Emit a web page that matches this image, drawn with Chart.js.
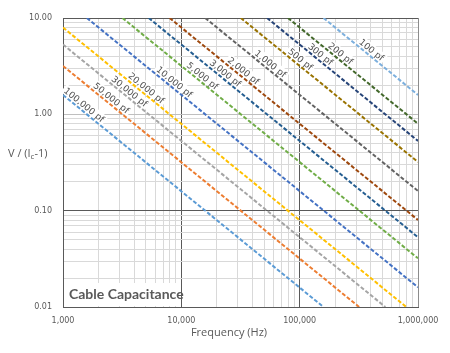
<!DOCTYPE html>
<html>
<head>
<meta charset="utf-8">
<script src="https://cdn.jsdelivr.net/npm/chart.js@4.4.1/dist/chart.umd.min.js"></script>
<style>
  html, body { margin: 0; padding: 0; background: #fff; }
  #wrap { width: 450px; height: 353px; }
</style>
</head>
<body>
<div id="wrap"><canvas id="capChart"></canvas></div>
<script>
// one straight line per cable capacitance (log-log)
const seriesLabels = ["100 pf", "200 pf", "300 pf", "500 pf", "1,000 pf", "2,000 pf", "3,000 pf",
                      "5,000 pf", "10,000 pf", "20,000 pf", "30,000 pf", "50,000 pf", "100,000 pf"];
const startFreq = [159000, 79600, 53000, 31800, 15900, 7960, 5300, 3180, 1590, 1000, 1000, 1000, 1000];
const startV    = [10, 10, 10, 10, 10, 10, 10, 10, 10, 7.96, 5.3, 3.18, 1.59];
const endFreq   = [1000000, 1000000, 1000000, 1000000, 1000000, 1000000, 1000000, 1000000, 1000000,
                   796000, 530000, 318000, 159000];
const endV      = [1.59, 0.80, 0.53, 0.32, 0.16, 0.080, 0.053, 0.032, 0.016, 0.01, 0.01, 0.01, 0.01];
// frequency where each series name sits
const labelFreq = [378000, 207000, 140000, 94800, 52900, 31300, 22000, 14100, 8150, 4720, 3400, 2390, 1410];

const lineColors = ["#7CAFDD", "#43682B", "#264478", "#997300", "#636363", "#9E480E", "#255E91",
                    "#70AD47", "#4472C4", "#FFC000", "#A5A5A5", "#ED7D31", "#5B9BD5"];

const xMin = 1000, xMax = 1000000;
const yMin = 0.01, yMax = 10;

// 1..9 per decade for the log grid
const logGrid = (min, max) => {
    const out = [];
    for (let e = Math.round(Math.log10(min)); e < Math.round(Math.log10(max)); e++) {
        for (let m = 1; m < 10; m++) out.push(m * Math.pow(10, e));
    }
    out.push(max);
    return out;
};
const isDecade = v => Math.abs(Math.log10(v) - Math.round(Math.log10(v))) < 1e-6;

const xGridColor = ctx => {
    const v = ctx.tick ? ctx.tick.value : 0;
    if (!isDecade(v)) return "#D9D9D9";
    return v >= xMax ? "#8C8C8C" : "#595959";
};
const yGridColor = ctx => {
    const v = ctx.tick ? ctx.tick.value : 0;
    if (!isDecade(v)) return "#D9D9D9";
    if (Math.abs(v - 1) < 1e-9) return "#BFBFBF";
    return "#595959";
};

const datasets = seriesLabels.map((name, i) => ({
    label: name,
    data: [{x: startFreq[i], y: startV[i]}, {x: endFreq[i], y: endV[i]}],
    borderColor: lineColors[i],
    backgroundColor: lineColors[i],
    borderWidth: 2,
    borderDash: [4, 2],
    pointRadius: 0,
    fill: false
}));

const annotate = {
    id: "annotate",
    beforeDatasetsDraw(chart) {
        const {ctx, chartArea, scales: {x, y}} = chart;
        ctx.save();

        // caption box
        ctx.fillStyle = "#fff";
        ctx.fillRect(chartArea.left + 1, chartArea.bottom - 24, 116, 23);
        ctx.font = "bold 14px Lato";
        ctx.fillStyle = "#595959";
        ctx.textBaseline = "middle";
        ctx.textAlign = "left";
        ctx.fillText("Cable Capacitance", chartArea.left + 6, chartArea.bottom - 13);

        // series names along the lines
        ctx.font = "9px 'DejaVu Sans'";
        seriesLabels.forEach((name, i) => {
            const x0 = x.getPixelForValue(startFreq[i]), y0 = y.getPixelForValue(startV[i]);
            const x1 = x.getPixelForValue(endFreq[i]), y1 = y.getPixelForValue(endV[i]);
            const angle = Math.atan2(y1 - y0, x1 - x0);
            const px = x.getPixelForValue(labelFreq[i]);
            const py = y0 + (px - x0) / (x1 - x0) * (y1 - y0);
            ctx.save();
            ctx.translate(px, py);
            ctx.rotate(angle);
            const w = ctx.measureText(name).width;
            ctx.fillStyle = "#fff";
            ctx.fillRect(-w / 2 - 2, -11, w + 4, 10);
            ctx.fillStyle = "#505050";
            ctx.textAlign = "center";
            ctx.fillText(name, 0, -5);
            ctx.restore();
        });
        ctx.restore();
    },
    afterDraw(chart) {
        const ctx = chart.ctx;
        ctx.save();
        ctx.fillStyle = "#595959";
        ctx.textBaseline = "middle";

        // x axis title
        ctx.font = "11px 'Open Sans'";
        ctx.textAlign = "center";
        ctx.fillText("Frequency (Hz)", 229, 333);

        // y axis title with subscript
        ctx.textAlign = "left";
        let tx = 8;
        const ty = 154;
        ctx.fillText("V / (I", tx, ty);
        tx += ctx.measureText("V / (I").width;
        ctx.font = "8px 'Open Sans'";
        ctx.fillText("c", tx, ty + 3);
        tx += ctx.measureText("c").width;
        ctx.font = "11px 'Open Sans'";
        ctx.fillText("-1)", tx, ty);
        ctx.restore();
    }
};

new Chart(document.getElementById("capChart"), {
    type: "line",
    data: { datasets: datasets },
    plugins: [annotate],
    options: {
        responsive: true,
        maintainAspectRatio: false,
        animation: false,
        layout: { padding: { left: 0, top: 18, right: 32, bottom: 0 } },
        plugins: {
            legend: { display: false },
            tooltip: { enabled: false }
        },
        scales: {
            x: {
                type: "logarithmic",
                min: xMin,
                max: xMax,
                afterBuildTicks: scale => { scale.ticks = logGrid(xMin, xMax).map(v => ({value: v})); },
                afterFit: scale => { scale.height = 46; },
                grid: { color: xGridColor, drawTicks: false, lineWidth: 1 },
                border: { color: "#595959", width: 1 },
                ticks: {
                    autoSkip: false,
                    maxRotation: 0,
                    padding: 9,
                    color: "#595959",
                    font: { family: "DejaVu Sans", size: 8 },
                    callback: v => isDecade(v) ? Math.round(v).toLocaleString("en-US") : ""
                }
            },
            y: {
                type: "logarithmic",
                min: yMin,
                max: yMax,
                afterBuildTicks: scale => { scale.ticks = logGrid(yMin, yMax).map(v => ({value: v})); },
                afterFit: scale => { scale.width = 63; },
                grid: { color: yGridColor, drawTicks: false, lineWidth: 1 },
                border: { color: "#595959", width: 1 },
                ticks: {
                    autoSkip: false,
                    padding: 11,
                    color: "#595959",
                    font: { family: "DejaVu Sans", size: 8 },
                    callback: v => isDecade(v) ? Number(v).toFixed(2) : ""
                }
            }
        }
    }
});
</script>
</body>
</html>
